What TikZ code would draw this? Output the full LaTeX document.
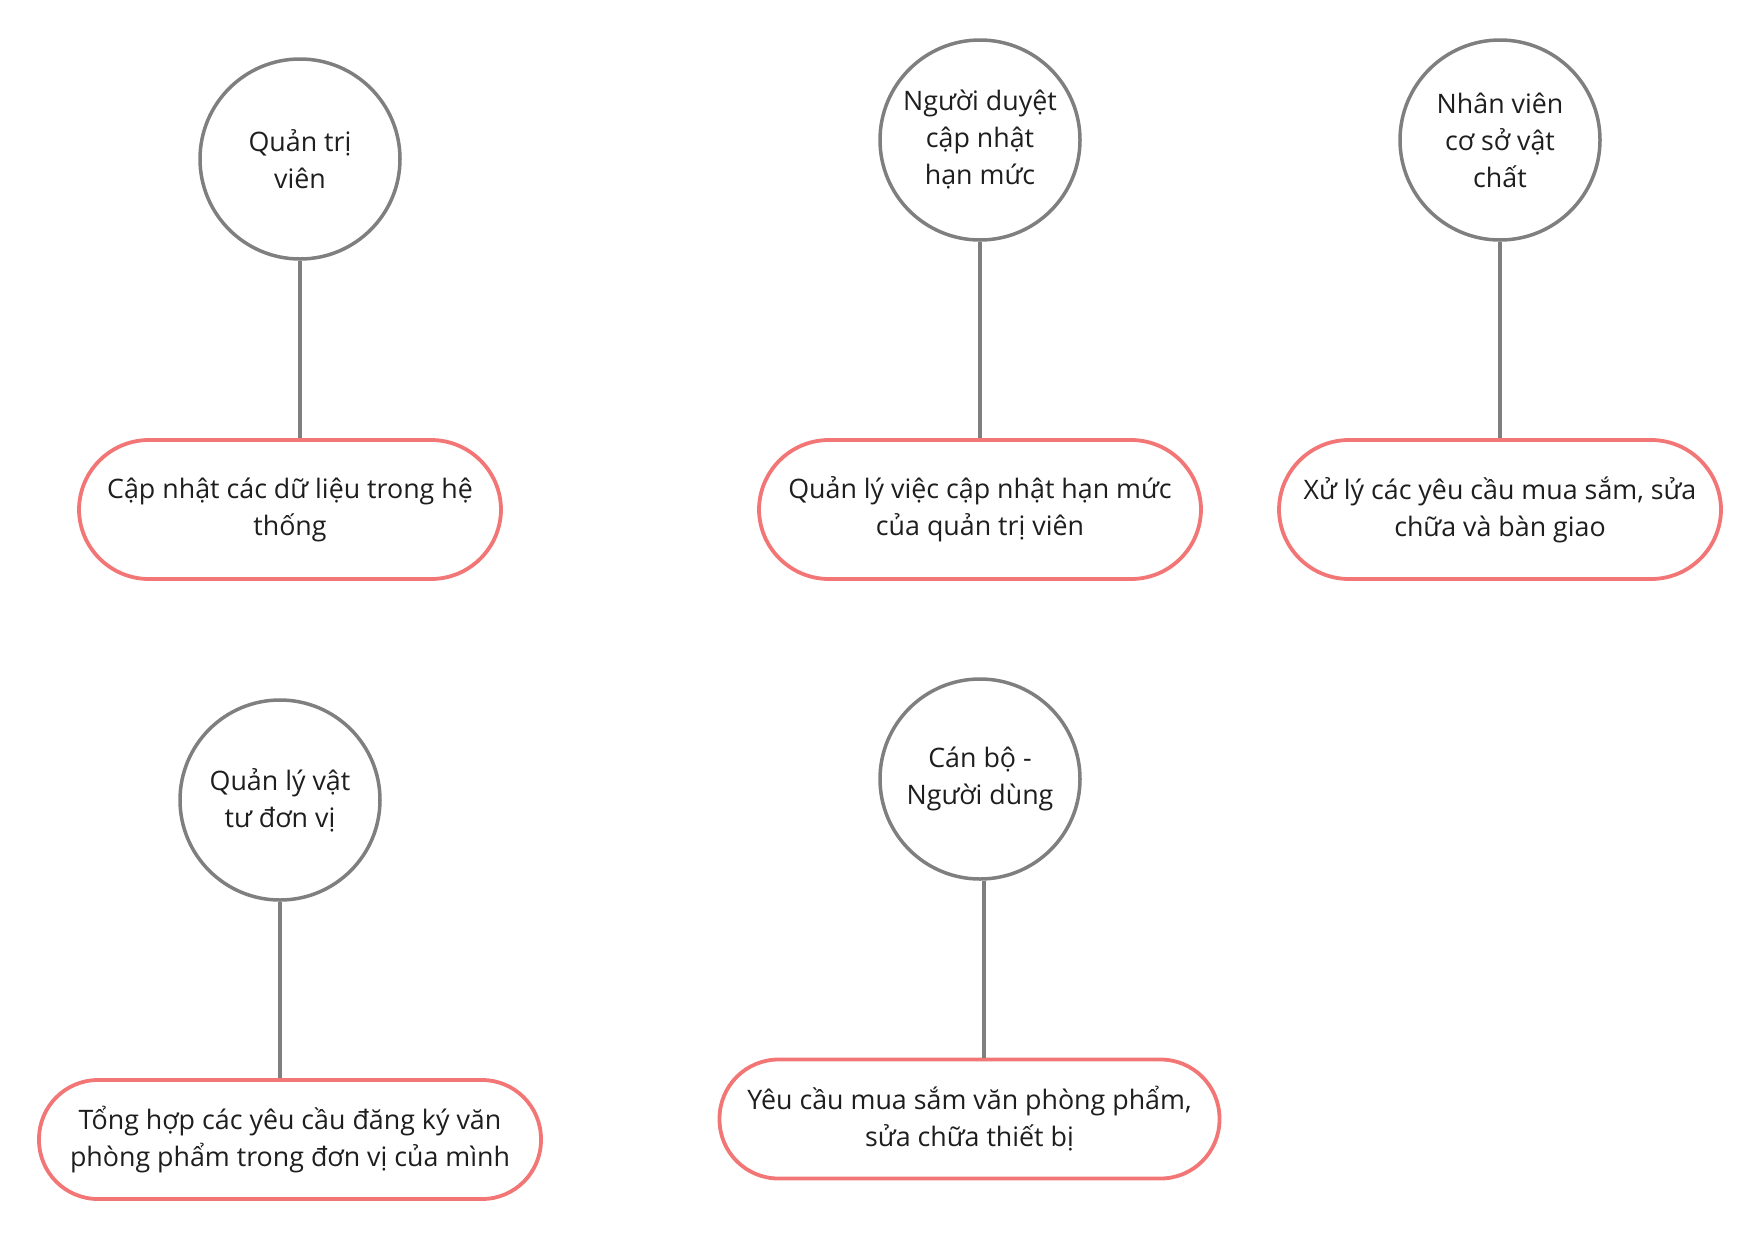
\documentclass[tikz,border=0pt]{standalone}
\usepackage{fontspec}
\setmainfont{Open Sans}
\usetikzlibrary{calc}
\definecolor{roleline}{HTML}{7F7F7F}
\definecolor{taskline}{HTML}{F27676}
\definecolor{inktext}{HTML}{1E1E1E}
\begin{document}
\begin{tikzpicture}[x=1pt,y=-1pt,
  role/.style={circle,draw=roleline,line width=3.5pt,fill=white,
    minimum size=200pt,inner sep=0pt,align=center,text=inktext,
    font=\fontsize{26.8}{37}\selectfont},
  task/.style={rectangle,draw=taskline,line width=3.8pt,fill=white,
    rounded corners=#1,inner sep=0pt,align=center,text=inktext,
    font=\fontsize{26.8}{37}\selectfont},
  link/.style={draw=roleline,line width=3.5pt}]
\useasboundingbox (0,0) rectangle (1760,1240);

% roles
\node[role] (c1) at (300,159) {Quản trị\\viên};
\node[role] (c2) at (980,140) {Người duyệt\\cập nhật\\hạn mức};
\node[role] (c3) at (1500,140) {Nhân viên\\cơ sở vật\\chất};
\node[role] (c4) at (280,800) {Quản lý vật\\tư đơn vị};
\node[role] (c5) at (980,779) {Cán bộ -\\Người dùng};

% tasks
\node[task=70pt,minimum width=422pt,minimum height=139pt] (p1) at (290,509.5)
  {Cập nhật các dữ liệu trong hệ\\thống};
\node[task=70pt,minimum width=442pt,minimum height=139pt] (p2) at (980,509.5)
  {Quản lý việc cập nhật hạn mức\\của quản trị viên};
\node[task=70pt,minimum width=442pt,minimum height=139pt] (p3) at (1500,509.5)
  {Xử lý các yêu cầu mua sắm, sửa\\chữa và bàn giao};
\node[task=59pt,minimum width=502pt,minimum height=119pt] (p4) at (290,1139.5)
  {Tổng hợp các yêu cầu đăng ký văn\\phòng phẩm trong đơn vị của mình};
\node[task=59pt,minimum width=500pt,minimum height=119pt] (p5) at (969.5,1119)
  {Yêu cầu mua sắm văn phòng phẩm,\\sửa chữa thiết bị};

% connectors from each role to its task
\path[link] (c1.south) -- (c1.south |- p1.north);
\path[link] (c2.south) -- (c2.south |- p2.north);
\path[link] (c3.south) -- (c3.south |- p3.north);
\path[link] (c4.south) -- (c4.south |- p4.north);
\path[link] ([xshift=4pt]c5.south) -- ([xshift=4pt]c5.south |- p5.north);
\end{tikzpicture}
\end{document}
